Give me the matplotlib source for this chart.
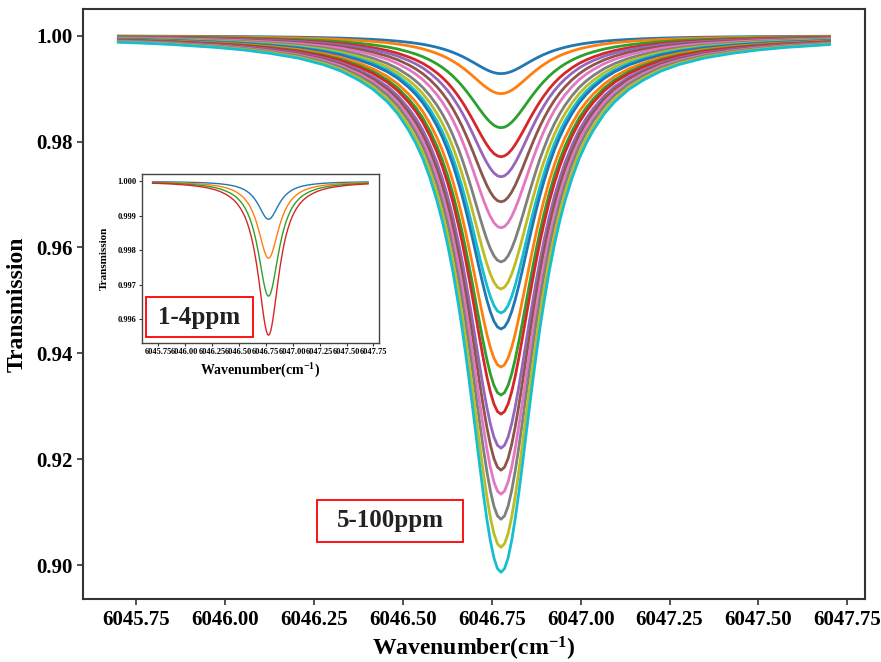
import numpy as np
import matplotlib
matplotlib.use("Agg")
import matplotlib.pyplot as plt
from matplotlib.patches import Rectangle

# ============================================================
# Data
# ============================================================
line_center = 6046.776          # cm^-1
scan_start, scan_end = 6045.70, 6047.70

# normalised absorption profile (1 at line centre), offsets in cm^-1
profile_offset = [0.00, 0.01, 0.02, 0.03, 0.04, 0.05, 0.06, 0.07, 0.08, 0.09,
                  0.10, 0.11, 0.12, 0.135, 0.15, 0.165, 0.18, 0.20, 0.22, 0.24,
                  0.26, 0.29, 0.32, 0.36, 0.40, 0.45, 0.50, 0.57, 0.65, 0.72,
                  0.80, 0.87, 0.924, 1.00, 1.076]
profile_value = [1.000, 0.993, 0.973, 0.941, 0.900, 0.852, 0.800, 0.746, 0.692, 0.640,
                 0.590, 0.543, 0.500, 0.441, 0.390, 0.346, 0.308, 0.265, 0.229, 0.200,
                 0.176, 0.146, 0.123, 0.100, 0.083, 0.066, 0.054, 0.042, 0.033, 0.027,
                 0.022, 0.019, 0.0166, 0.0142, 0.0123]

# minimum transmission of each curve, 5-100 ppm (main plot)
main_minima = [0.99282, 0.98904, 0.98261, 0.97713, 0.97335, 0.96862, 0.96371,
               0.95728, 0.95217, 0.94764, 0.94461, 0.93743, 0.93214, 0.92854,
               0.92212, 0.91796, 0.91342, 0.90870, 0.90340, 0.89868]

# minimum transmission of each curve, 1-4 ppm (inset)
inset_minima = [0.99890, 0.99777, 0.99667, 0.99554]

xticks = [6045.75, 6046.00, 6046.25, 6046.50, 6046.75, 6047.00, 6047.25, 6047.50, 6047.75]
main_yticks = [0.90, 0.92, 0.94, 0.96, 0.98, 1.00]
inset_yticks = [0.996, 0.997, 0.998, 0.999, 1.000]

# build the wavenumber axis from the profile table (left wing, centre, right wing)
off = np.array(profile_offset)
val = np.array(profile_value)
left = line_center - off[::-1]
right = line_center + off[1:]
wn = np.concatenate([left, right])
shape = np.concatenate([val[::-1], val[1:]])
keep = (wn >= scan_start - 1e-9) & (wn <= scan_end + 1e-9)
wn, shape = wn[keep], shape[keep]

plt.rcParams['font.family'] = ['Liberation Serif', 'DejaVu Serif']
plt.rcParams['font.weight'] = 'bold'
plt.rcParams['mathtext.default'] = 'regular'

fig = plt.figure(figsize=(8.81, 6.62), dpi=100)
ax = fig.add_axes([0.094, 0.095, 0.888, 0.891])

for tmin in main_minima:
    ax.plot(wn, 1 - (1 - tmin) * shape, lw=2.0)

ax.set_xticks(xticks)
ax.set_xticklabels([f"{t:.2f}" for t in xticks])
ax.set_yticks(main_yticks)
ax.set_yticklabels([f"{t:.2f}" for t in main_yticks])
ax.tick_params(labelsize=15, length=4, width=1.2, color='#333333')
ax.set_xlabel('Wavenumber(cm$^{-1}$)', fontsize=17, fontweight='bold', labelpad=4)
ax.set_ylabel('Transmission', fontsize=17, fontweight='bold', labelpad=6)
for s in ax.spines.values():
    s.set_color('#333333')
    s.set_linewidth(1.5)

# 5-100 ppm label box
fig.add_artist(Rectangle((0.360, 0.181), 0.166, 0.063, transform=fig.transFigure,
                         fill=False, edgecolor='red', lw=1.3, zorder=5))
fig.text(0.443, 0.213, '5-100ppm', fontsize=18, fontweight='bold',
         ha='center', va='center', color='#222222', zorder=6)

# inset: 1-4 ppm
axin = fig.add_axes([0.161, 0.482, 0.269, 0.255])
for tmin in inset_minima:
    axin.plot(wn, 1 - (1 - tmin) * shape, lw=1.0)
axin.set_xticks(xticks)
axin.set_xticklabels([f"{t:.2f}" for t in xticks])
axin.set_yticks(inset_yticks)
axin.set_yticklabels([f"{t:.3f}" for t in inset_yticks])
axin.tick_params(labelsize=6, length=2, width=0.8, pad=2, color='#333333')
axin.set_xlabel('Wavenumber(cm$^{-1}$)', fontsize=10, fontweight='bold', labelpad=4)
axin.set_ylabel('Transmission', fontsize=8, fontweight='bold', labelpad=6)
for s in axin.spines.values():
    s.set_color('#444444')
    s.set_linewidth(1.0)

fig.add_artist(Rectangle((0.166, 0.491), 0.121, 0.060, transform=fig.transFigure,
                         facecolor='white', edgecolor='red', lw=1.3, zorder=7))
fig.text(0.226, 0.521, '1-4ppm', fontsize=18, fontweight='bold',
         ha='center', va='center', color='#222222', zorder=8)

fig.savefig('out.png', dpi=100)
